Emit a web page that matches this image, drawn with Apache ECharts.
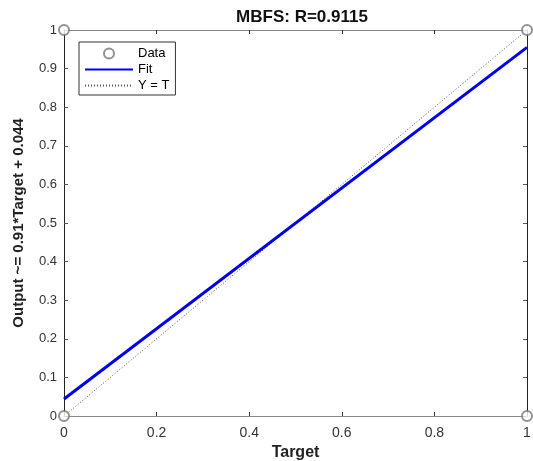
<!DOCTYPE html>
<html><head><meta charset="utf-8">
<script src="https://cdn.jsdelivr.net/npm/echarts@6/dist/echarts.min.js"></script>
<style>html,body{margin:0;padding:0;background:#fff}#c{width:533px;height:461px}</style>
</head><body><div id="c"></div>
<script>
const titleText = 'MBFS: R=0.9115';
const xLabel = 'Target';
const yLabel = 'Output ~= 0.91*Target + 0.044';
const dataPoints = [[0,0],[0,1],[1,0],[1,1]];
const fitLine = [[0,0.044],[1,0.955]];
const identityLine = [[0,0],[1,1]];
const FF = 'Liberation Sans, Arial, sans-serif';
const tickFont = {fontFamily:FF, fontSize:13, color:'#333'};
const chart = echarts.init(document.getElementById('c'));
chart.setOption({
  animation:false,
  title:{text:titleText, left:297, top:4, textAlign:'center',
    textStyle:{fontFamily:FF, fontSize:17, fontWeight:'bold', color:'#111'}},
  legend:{left:79, top:42, orient:'vertical', itemGap:3, itemWidth:48, itemHeight:10,
    borderColor:'#333', borderWidth:1, padding:[5,6,3,5], backgroundColor:'#fff',
    textStyle:{fontFamily:FF, fontSize:13, color:'#000'},
    data:[{name:'Data'},
          {name:'Fit', itemStyle:{opacity:0}},
          {name:'Y = T', itemStyle:{opacity:0}}]},
  grid:{left:64, right:6, top:30, bottom:45, outerBoundsMode:'none', containLabel:false},
  xAxis:[{type:'value', min:0, max:1, interval:0.2, position:'bottom',
    axisLine:{onZero:false, lineStyle:{color:'#888', width:1}},
    axisTick:{inside:true, length:4, lineStyle:{color:'#333'}},
    axisLabel:Object.assign({margin:10, formatter:v=>String(+v.toFixed(1))}, tickFont, {fontSize:14}),
    splitLine:{show:false},
    name:xLabel, nameLocation:'middle', nameGap:28,
    nameTextStyle:{fontFamily:FF, fontSize:16, fontWeight:'bold', color:'#222'}},
   {type:'value', min:0, max:1, interval:0.2, position:'top',
    axisLine:{onZero:false, lineStyle:{color:'#888', width:1}},
    axisTick:{inside:true, length:4, lineStyle:{color:'#333'}},
    axisLabel:{show:false}, splitLine:{show:false}}],
  yAxis:[{type:'value', min:0, max:1, interval:0.1, position:'left',
    axisLine:{onZero:false, lineStyle:{color:'#222', width:1}},
    axisTick:{inside:true, length:4, lineStyle:{color:'#555'}},
    axisLabel:Object.assign({margin:7, formatter:v=>String(+v.toFixed(1))}, tickFont),
    splitLine:{show:false},
    name:yLabel, nameLocation:'middle', nameGap:38,
    nameTextStyle:{fontFamily:FF, fontSize:15, fontWeight:'bold', color:'#222'}},
   {type:'value', min:0, max:1, interval:0.1, position:'right',
    axisLine:{onZero:false, lineStyle:{color:'#222', width:1}},
    axisTick:{inside:true, length:4, lineStyle:{color:'#555'}},
    axisLabel:{show:false}, splitLine:{show:false}}],
  series:[
    {name:'Y = T', type:'line', data:identityLine, showSymbol:false, symbol:'none',
      color:'#555', lineStyle:{color:'#555', width:1, type:[1,2]}, z:2},
    {name:'Fit', type:'line', data:fitLine, showSymbol:false, symbol:'none',
      color:'#0000ee', lineStyle:{color:'#0000ee', width:3}, z:3},
    {name:'Data', type:'scatter', data:dataPoints, symbol:'emptyCircle', symbolSize:10,
      itemStyle:{color:'#777', borderColor:'#777', borderWidth:1}, z:4, clip:false}
  ]
});
</script></body></html>
